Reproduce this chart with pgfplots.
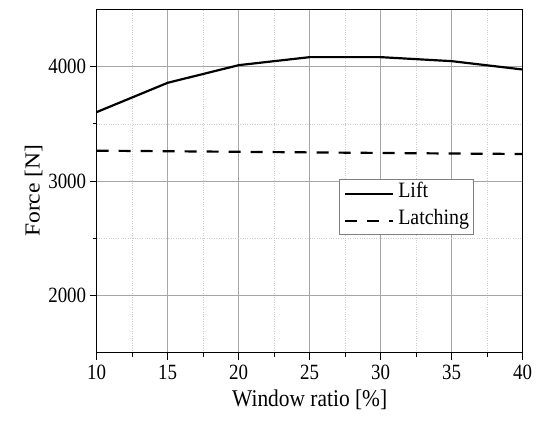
\documentclass[border=0pt]{standalone}
\usepackage{fontspec}
\setmainfont{Liberation Serif}
\usepackage{pgfplots}
\pgfplotsset{compat=1.18}
\begin{document}
\begin{tikzpicture}
\begin{axis}[
  name=ax,
  scale only axis,
  width=426bp, height=343.4bp,
  xmin=10, xmax=40, ymin=1500, ymax=4500,
  xtick={10,15,...,40}, ytick={2000,3000,4000},
  minor x tick num=1, minor y tick num=1,
  tick align=outside, tick pos=left,
  major tick length=7bp, minor tick length=4bp,
  every tick/.style={black, line width=0.8pt},
  axis line style={line width=0.9pt},
  grid=both,
  major grid style={gray!70, line width=0.5pt},
  minor grid style={gray!40, dotted, line width=0.4pt},
  /pgf/number format/assume math mode=true,
  /pgf/number format/1000 sep={},
  tick label style={font=\fontsize{19}{22}\selectfont, yscale=1.15},
  xticklabel style={yshift=-1bp},
  label style={font=\fontsize{21.5}{24}\selectfont},
  xlabel={Window ratio [\%]},
  ylabel={Force [N]},
  xlabel style={yshift=-3bp, yscale=1.12},
  ylabel style={at={(ticklabel cs:0.472)}, xscale=1.1, yshift=-1bp},
  legend style={at={(0.5695,0.505)}, anchor=north west, draw=gray, line width=0.6pt,
    font=\fontsize{20}{22}\selectfont, inner xsep=4.5bp, inner ysep=2.5bp, row sep=4bp,
    column sep=4bp,
    nodes={inner sep=0pt, text height=14bp, text depth=7bp, yscale=1.1}},
  legend cell align=left,
  legend image code/.code={\draw[#1, line width=2.2pt] (0bp,0bp) -- (48bp,0bp);},
]
\addplot[black, line width=2.2pt] coordinates {
  (10,3602) (15,3858) (20,4012) (25,4082) (30,4082) (35,4047) (40,3974)};
\addlegendentry{Lift}
\addplot[black, line width=2.2pt, dash pattern=on 12bp off 10bp] coordinates {
  (10,3265) (15,3260) (20,3255) (25,3250) (30,3245) (35,3240) (40,3236)};
\addlegendentry{Latching}
\end{axis}
\pgfresetboundingbox
\path[use as bounding box] ([xshift=-96.7bp,yshift=-70.3bp]ax.south west) rectangle ([xshift=17.3bp,yshift=9.3bp]ax.north east);
\end{tikzpicture}
\end{document}
